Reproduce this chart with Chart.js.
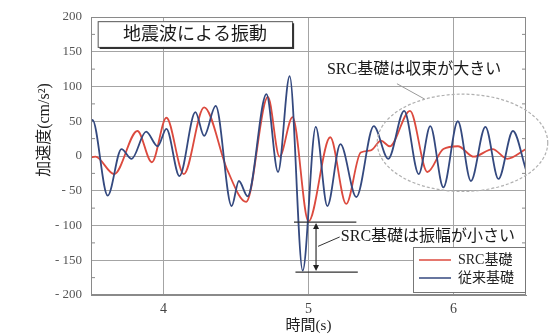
<!DOCTYPE html>
<html lang="ja">
<head>
<meta charset="UTF-8">
<title>地震波による振動</title>
<script src="https://cdn.jsdelivr.net/npm/chart.js"></script>
<style>
  html, body { margin: 0; padding: 0; background: #fff; }
  .chart-container { width: 556px; height: 336px; }
</style>
</head>
<body>
<div class="chart-container"><canvas id="shindoChart"></canvas></div>
<script>
// 図から読み取った山・谷の値 (時間 s / 加速度 cm/s2)
const srcT = [3.50, 3.53, 3.66, 3.82, 3.92, 4.02, 4.14, 4.28, 4.44, 4.57, 4.72, 4.80, 4.89, 5.00, 5.15, 5.26, 5.36, 5.43, 5.50, 5.56, 5.70, 5.82, 5.93, 6.03, 6.14, 6.27, 6.37, 6.50];
const srcA = [-2, -1, -26, 36, -9, 55, -26, 70, -20, -66, 85, -1, 56, -94, 27, -69, 5, 8, 22, 14, 65, -23, 10, 14, -1, 10, -4, 10];
const kizonT = [3.50, 3.51, 3.615, 3.71, 3.78, 3.88, 3.96, 4.02, 4.11, 4.22, 4.28, 4.36, 4.47, 4.52, 4.58, 4.71, 4.79, 4.87, 4.96, 5.05, 5.13, 5.22, 5.33, 5.45, 5.55, 5.66, 5.76, 5.84, 5.93, 6.03, 6.12, 6.22, 6.31, 6.41, 6.50];
const kizonA = [48, 52, -57, 10, -4, 35, 14, 39, -29, 63, 29, 72, -72, -36, -58, 89, -23, 115, -165, 42, -72, 17, -59, 43, -4, 65, -26, 43, -45, 50, -36, 42, -33, 36, -20];
const xTicks = [4, 5, 6];
const yTicks = [-200, -150, -100, -50, 0, 50, 100, 150, 200];

const fontJa = "'Liberation Serif', 'Noto Sans CJK JP', serif";

const chuuki = {
  id: 'chuuki',
  afterDatasetsDraw(chart) {
    const { ctx, chartArea: ca, scales: { x, y } } = chart;
    const px = v => x.getPixelForValue(v);
    const py = v => y.getPixelForValue(v);
    ctx.save();

    // 枠
    ctx.strokeStyle = '#8a8a8a';
    ctx.lineWidth = 1;
    ctx.strokeRect(ca.left + 0.5, ca.top + 0.5, ca.width - 1, ca.height - 1);
    // 補助目盛
    ctx.beginPath();
    for (let v = -175; v < 200; v += 50) {
      ctx.moveTo(ca.left, py(v)); ctx.lineTo(ca.left + 4, py(v));
      ctx.moveTo(ca.right, py(v)); ctx.lineTo(ca.right - 4, py(v));
    }
    ctx.stroke();

    // タイトルの箱
    const bx1 = px(3.546), bx2 = px(4.887), by1 = py(194), by2 = py(157);
    ctx.fillStyle = '#fff';
    ctx.fillRect(bx1, by1, bx2 - bx1, by2 - by1);
    ctx.strokeStyle = '#555';
    ctx.strokeRect(bx1 + 0.5, by1 + 0.5, bx2 - bx1, by2 - by1);
    ctx.lineWidth = 2;
    ctx.strokeStyle = '#333';
    ctx.beginPath();
    ctx.moveTo(bx1 + 2, by2 + 1); ctx.lineTo(bx2 + 1, by2 + 1); ctx.lineTo(bx2 + 1, by1 + 2);
    ctx.stroke();
    ctx.fillStyle = '#1a1a1a';
    ctx.font = '18px ' + fontJa;
    ctx.textAlign = 'center';
    ctx.textBaseline = 'middle';
    ctx.fillText('地震波による振動', (bx1 + bx2) / 2, (by1 + by2) / 2 + 1);

    // 収束の注記
    ctx.textAlign = 'left';
    ctx.font = '16px ' + fontJa;
    ctx.fillText('SRC基礎は収束が大きい', px(5.127), py(124));
    ctx.strokeStyle = '#999';
    ctx.lineWidth = 1;
    ctx.beginPath();
    ctx.moveTo(px(5.61), py(104)); ctx.lineTo(px(5.80), py(82));
    ctx.stroke();
    ctx.setLineDash([3, 2]);
    ctx.strokeStyle = '#b0b0b0';
    ctx.lineWidth = 1.2;
    ctx.beginPath();
    ctx.ellipse(px(6.062), py(19), px(6.65) - px(6.062), py(-51) - py(19), 0, 0, Math.PI * 2);
    ctx.stroke();
    ctx.setLineDash([]);

    // 振幅の注記
    ctx.strokeStyle = '#333';
    ctx.lineWidth = 1.2;
    ctx.beginPath();
    ctx.moveTo(px(4.90), py(-95)); ctx.lineTo(px(5.33), py(-95));
    ctx.moveTo(px(4.91), py(-167)); ctx.lineTo(px(5.34), py(-167));
    const ax = px(5.052), ay1 = py(-95), ay2 = py(-167);
    ctx.moveTo(ax, ay1 + 5); ctx.lineTo(ax, ay2 - 5);
    ctx.stroke();
    ctx.fillStyle = '#222';
    ctx.beginPath();
    ctx.moveTo(ax, ay1 + 1); ctx.lineTo(ax - 3, ay1 + 7); ctx.lineTo(ax + 3, ay1 + 7); ctx.closePath();
    ctx.moveTo(ax, ay2 - 1); ctx.lineTo(ax - 3, ay2 - 7); ctx.lineTo(ax + 3, ay2 - 7); ctx.closePath();
    ctx.fill();
    ctx.lineWidth = 1;
    ctx.beginPath();
    ctx.moveTo(ax + 2, py(-130)); ctx.lineTo(px(5.215), py(-116.5));
    ctx.stroke();
    ctx.fillStyle = '#1a1a1a';
    ctx.font = '16px ' + fontJa;
    ctx.fillText('SRC基礎は振幅が小さい', px(5.223), py(-116.5));

    // 凡例
    const lw = 112, lh = 45;
    const lx = ca.right - lw - 1, ly = ca.bottom - lh - 3;
    ctx.fillStyle = '#fff';
    ctx.fillRect(lx, ly, lw, lh);
    ctx.strokeStyle = '#777';
    ctx.strokeRect(lx + 0.5, ly + 0.5, lw, lh);
    ctx.font = '14px ' + fontJa;
    chart.data.datasets.forEach((ds, i) => {
      const yy = ly + 13 + i * 18;
      ctx.strokeStyle = ds.borderColor;
      ctx.lineWidth = 1.5;
      ctx.beginPath();
      ctx.moveTo(lx + 6, yy); ctx.lineTo(lx + 38, yy);
      ctx.stroke();
      ctx.fillStyle = '#222';
      ctx.fillText(ds.label, lx + 45, yy);
    });

    // 縦軸タイトル
    ctx.translate(45, 130);
    ctx.rotate(-Math.PI / 2);
    ctx.textAlign = 'center';
    ctx.font = '16px ' + fontJa;
    ctx.fillStyle = '#222';
    ctx.fillText('加速度(cm/s²)', 0, 0);
    ctx.restore();
  }
};

new Chart(document.getElementById('shindoChart'), {
  type: 'line',
  data: {
    datasets: [
      {
        label: 'SRC基礎',
        data: srcT.map((t, i) => ({ x: t, y: srcA[i] })),
        borderColor: '#dc4a3e',
        borderWidth: 1.8,
        pointRadius: 0,
        cubicInterpolationMode: 'monotone',
        order: 1
      },
      {
        label: '従来基礎',
        data: kizonT.map((t, i) => ({ x: t, y: kizonA[i] })),
        borderColor: '#34497f',
        borderWidth: 1.8,
        pointRadius: 0,
        cubicInterpolationMode: 'monotone',
        order: 0
      }
    ]
  },
  options: {
    responsive: true,
    maintainAspectRatio: false,
    animation: false,
    layout: { padding: { top: 17, right: 30, left: 0, bottom: 0 } },
    plugins: { legend: { display: false }, tooltip: { enabled: false } },
    scales: {
      x: {
        type: 'linear',
        min: 3.5,
        max: 6.5,
        afterBuildTicks: s => { s.ticks = xTicks.map(v => ({ value: v })); },
        afterFit: s => { s.height = 41; },
        grid: { color: '#a4a4a4', drawTicks: false },
        border: { color: '#8a8a8a' },
        ticks: { color: '#444', padding: 6, font: { family: 'Liberation Serif', size: 14 } },
        title: { display: true, text: '時間(s)', color: '#222', padding: { top: 0, bottom: 1 }, font: { family: fontJa, size: 15 } }
      },
      y: {
        min: -200,
        max: 200,
        afterBuildTicks: s => { s.ticks = yTicks.map(v => ({ value: v })); },
        afterFit: s => { s.width = 91; },
        grid: { color: '#a4a4a4', drawTicks: false },
        border: { color: '#8a8a8a' },
        ticks: {
          color: '#555',
          padding: 9,
          font: { family: 'Liberation Serif', size: 13 },
          callback: v => v < 0 ? '- ' + Math.abs(v) : String(v)
        }
      }
    }
  },
  plugins: [chuuki]
});
</script>
</body>
</html>
